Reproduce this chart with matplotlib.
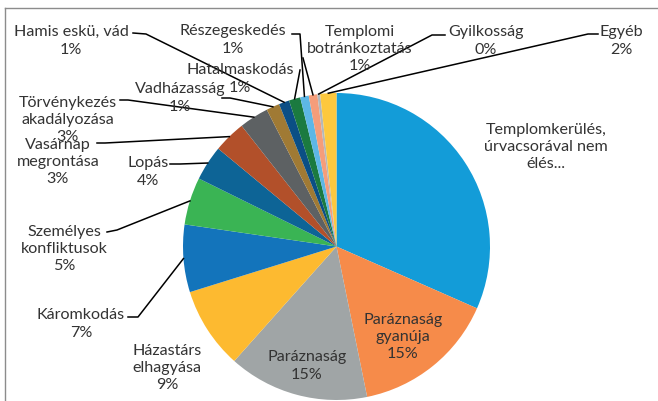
import numpy as np
import matplotlib.pyplot as plt

# data (share of cases)
categories = ['Templomkerülés,\núrvacsorával nem\nélés...', 'Paráznaság\ngyanúja', 'Paráznaság',
              'Házastárs\nelhagyása', 'Káromkodás', 'Személyes\nkonfliktusok', 'Lopás',
              'Vasárnap\nmegrontása', 'Törvénykezés\nakadályozása', 'Vadházasság',
              'Hamis eskü, vád', 'Hatalmaskodás', 'Részegeskedés', 'Templomi\nbotránkoztatás',
              'Gyilkosság', 'Egyéb']
values = [31.6, 15.2, 14.8, 8.6, 7.1, 5.0, 3.7, 3.4, 3.1, 1.4, 1.1, 1.2, 0.9, 0.9, 0.3, 1.7]
show_pct = [False] + [True] * 15

colors = ['#139CD8', '#F68B4A', '#A0A5A6', '#FDBA30', '#1374BB', '#3AB454', '#0D6496',
          '#B2502A', '#5D6163', '#A07A34', '#0B4F85', '#1B7A40', '#5DB7E6', '#F59D7A',
          '#B5B8B9', '#FDC83E']

# layout in pixels, measured from the top-left corner
W, H = 658, 401
cx, cy, r = 336.5, 246.5, 153.5
label_pos = [(546, 147), (403, 337), (307, 366), (167, 368), (81, 324), (64, 249),
             (148, 172), (58, 162), (68, 120), (180, 98), (71, 41), (240, 79),
             (233, 40), (360, 49), (486, 41), (621, 41)]
leaders = [None, None, None, None,
           [(128, 317), (138, 317)], [(107, 232), (117, 230)], [(170, 164), (180, 164)],
           [(97, 143), (105, 143)], [(120, 100), (128, 100)], [(222, 98), (230, 98)],
           [(133, 33), (146, 34)], [(300, 70)], [(292, 34), (300, 34)], [(303, 58)],
           [(445, 35), (432, 35)], [(598, 34), (588, 34)]]

plt.rcParams['font.family'] = ['Lato', 'DejaVu Sans']
txt_color = '#333333'

fig = plt.figure(figsize=(W / 100, H / 100), dpi=100)
ax = fig.add_axes([0, 0, 1, 1])

ax.pie(values, colors=colors, startangle=90, counterclock=False,
       center=(cx, H - cy), radius=r, wedgeprops=dict(linewidth=0))
ax.set_xlim(0, W)
ax.set_ylim(0, H)
ax.set_aspect('equal')
ax.axis('off')

total = sum(values)
cum = np.cumsum([0] + values[:-1])
for i, (name, v) in enumerate(zip(categories, values)):
    text = name
    if show_pct[i]:
        text += f'\n{round(100 * v / total)}%'
    x, y = label_pos[i]
    ax.text(x, H - y, text, ha='center', va='center', fontsize=11.6,
            linespacing=1.3, color=txt_color, zorder=5)
    if leaders[i] is not None:
        theta = np.deg2rad(360 * (cum[i] + v / 2) / total)
        px = cx + r * np.sin(theta)
        py = cy - r * np.cos(theta)
        pts = leaders[i] + [(px, py)]
        ax.plot([p[0] for p in pts], [H - p[1] for p in pts], color='black',
                linewidth=1.1, zorder=4)

# chart frame (only top and left edges visible)
ax.plot([5, W], [H - 8, H - 8], color='#8C8C8C', linewidth=1)
ax.plot([5, 5], [H - 8, 0], color='#8C8C8C', linewidth=1)

fig.savefig('out.png', dpi=100)
